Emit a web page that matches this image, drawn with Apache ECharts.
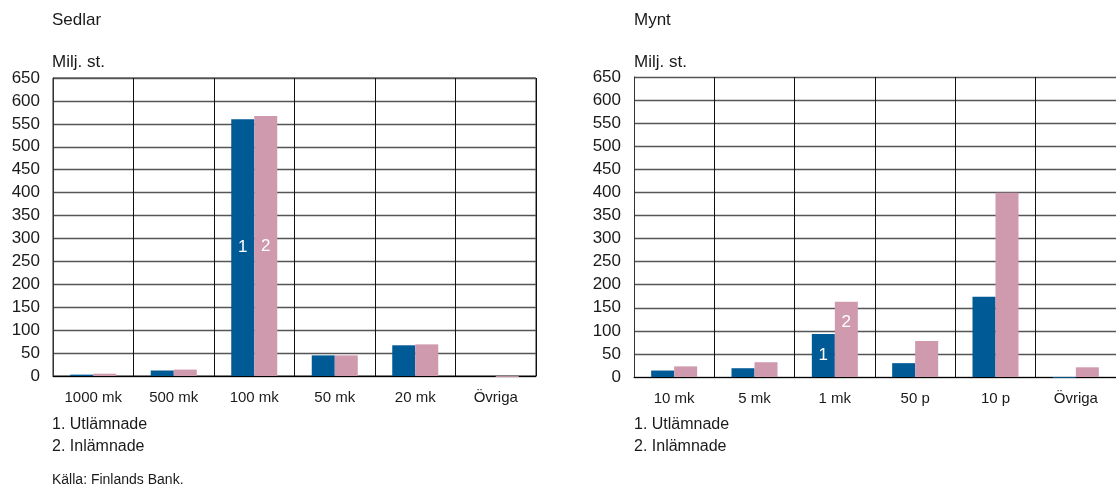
<!DOCTYPE html>
<html>
<head>
<meta charset="utf-8">
<script src="https://cdn.jsdelivr.net/npm/echarts@6/dist/echarts.min.js"></script>
<style>
  html, body { margin: 0; padding: 0; background: #fff; }
  #chart { width: 1116px; height: 487px; }
</style>
</head>
<body>
<div id="chart"></div>
<script>
// Sedlar (banknotes), millions of pieces
const sedlarCategories = ['1000 mk', '500 mk', '100 mk', '50 mk', '20 mk', 'Övriga'];
const sedlarUtlamnade = [3, 12, 560, 45, 67, 0];
const sedlarInlamnade = [5, 14, 567, 45, 69, -2];

// Mynt (coins), millions of pieces
const myntCategories = ['10 mk', '5 mk', '1 mk', '50 p', '10 p', 'Övriga'];
const myntUtlamnade = [14, 19, 93, 30, 174, -2];
const myntInlamnade = [23, 32, 163, 78, 399, 21];

// Value axis range and step
const yMin = 0;
const yMax = 650;
const yStep = 50;

// Category that carries the series number tags ("1", "2")
const sedlarTagIndex = 2;
const myntTagIndex = 2;

const FONT = '"Liberation Sans", Arial, sans-serif';
const TEXT = '#1a1a1a';
const BLUE = '#005a96';
const PINK = '#cf99ae';

function tagged(values, tagIndex, tag, labelOpts) {
  return values.map((v, i) => i === tagIndex
    ? { value: v, label: Object.assign({ show: true, formatter: tag, color: '#fff', fontSize: 17, fontFamily: FONT }, labelOpts) }
    : v);
}

function xAxisFor(gridIndex, cats) {
  return {
    type: 'category', gridIndex, data: cats,
    axisLine: { show: true, lineStyle: { color: '#000', width: 1 } },
    axisTick: { show: false },
    axisLabel: { color: TEXT, fontSize: 15, fontFamily: FONT, margin: 14, interval: 0 },
    splitLine: { show: true, interval: 0, lineStyle: { color: '#111', width: 1 } }
  };
}

function yAxisFor(gridIndex) {
  return {
    type: 'value', gridIndex, min: yMin, max: yMax, interval: yStep,
    axisLine: { show: true, lineStyle: { color: '#333', width: 1 } },
    axisTick: { show: false },
    axisLabel: { color: TEXT, fontSize: 17, fontFamily: FONT, margin: 13 },
    splitLine: { show: true, lineStyle: { color: '#555', width: 1.4 } }
  };
}

function barSeries(idx, name, values, color) {
  return {
    type: 'bar', name, xAxisIndex: idx, yAxisIndex: idx,
    data: values, barWidth: 23, barGap: '0%', clip: false,
    itemStyle: { color }, z: 3
  };
}

function txt(x, y, text, size) {
  return { type: 'text', left: x, top: y, style: { text, fill: TEXT, font: size + 'px ' + FONT } };
}

const chart = echarts.init(document.getElementById('chart'), null, { renderer: 'canvas' });

chart.setOption({
  animation: false,
  backgroundColor: '#fff',
  grid: [
    { left: 53, top: 78, width: 483, height: 298, show: true, borderColor: '#222', borderWidth: 1 },
    { left: 634, top: 77, width: 488, height: 300 }
  ],
  xAxis: [xAxisFor(0, sedlarCategories), xAxisFor(1, myntCategories)],
  yAxis: [yAxisFor(0), yAxisFor(1)],
  series: [
    barSeries(0, 'Utlämnade', tagged(sedlarUtlamnade, sedlarTagIndex, '1', { position: 'inside' }), BLUE),
    barSeries(0, 'Inlämnade', tagged(sedlarInlamnade, sedlarTagIndex, '2', { position: 'inside' }), PINK),
    barSeries(1, 'Utlämnade', tagged(myntUtlamnade, myntTagIndex, '1', { position: 'inside' }), BLUE),
    barSeries(1, 'Inlämnade', tagged(myntInlamnade, myntTagIndex, '2', { position: 'insideTop', distance: 12 }), PINK)
  ],
  graphic: [
    txt(52, 12, 'Sedlar', 17),
    txt(52, 54, 'Milj. st.', 17),
    txt(634, 12, 'Mynt', 17),
    txt(634, 54, 'Milj. st.', 17),
    txt(52, 417, '1. Utlämnade', 16),
    txt(52, 439, '2. Inlämnade', 16),
    txt(634, 417, '1. Utlämnade', 16),
    txt(634, 439, '2. Inlämnade', 16),
    txt(52, 473, 'Källa: Finlands Bank.', 14)
  ]
});
</script>
</body>
</html>
